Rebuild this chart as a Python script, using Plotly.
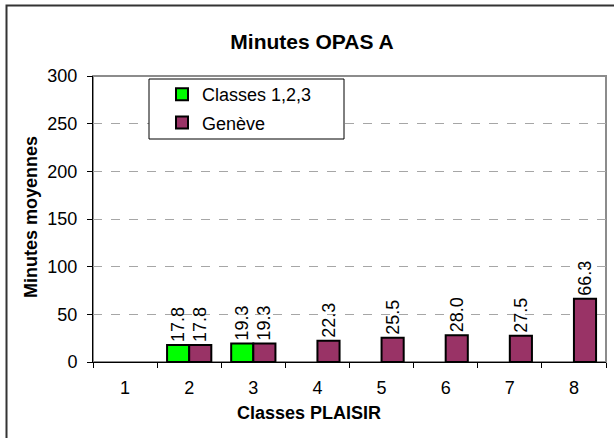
import plotly.graph_objects as go

classes = ["1", "2", "3", "4", "5", "6", "7", "8"]
classes_123 = [None, 17.8, 19.3, None, None, None, None, None]
geneve = [None, 17.8, 19.3, 22.3, 25.5, 28.0, 27.5, 66.3]

W, H = 614, 438
L, R, T, B = 93, 8, 76, 76
pw, ph = W - L - R, H - T - B


def px_x(x):
    return (x - L) / pw


def px_y(y):
    return (H - B - y) / ph


def labels(vals):
    return ["" if v is None else f"{v:.1f}" for v in vals]


fig = go.Figure()
fig.add_trace(go.Bar(x=classes, y=classes_123, name="Classes 1,2,3",
                     marker=dict(color="#00ff00", line=dict(color="black", width=2)),
                     text=labels(classes_123), textposition="outside", textangle=-90,
                     textfont=dict(size=18, color="black"), cliponaxis=False,
                     legendgroup="a"))
fig.add_trace(go.Bar(x=classes, y=geneve, name="Genève",
                     marker=dict(color="#993366", line=dict(color="black", width=2)),
                     text=labels(geneve), textposition="outside", textangle=-90,
                     textfont=dict(size=18, color="black"), cliponaxis=False,
                     legendgroup="b"))

fig.update_layout(
    width=W, height=H,
    margin=dict(l=L, r=R, t=T, b=B),
    paper_bgcolor="white", plot_bgcolor="white",
    font=dict(family="Liberation Sans, Arial", size=18, color="black"),
    title=dict(text="<b>Minutes OPAS A</b>", xref="container", x=312 / W, xanchor="center",
               yref="container", y=1 - 42 / H, yanchor="middle", font=dict(size=21)),
    barmode="group", bargap=0.31, bargroupgap=0,
    uniformtext=dict(minsize=18, mode="show"),
    legend=dict(x=px_x(162), y=px_y(76), xanchor="left", yanchor="top",
                borderwidth=0, bgcolor="rgba(0,0,0,0)",
                font=dict(size=18), traceorder="grouped", tracegroupgap=2),
    showlegend=True,
)
fig.update_xaxes(type="category", showline=True, linecolor="black", linewidth=1,
                 ticks="outside", tickson="boundaries", ticklen=5, tickcolor="black",
                 ticklabelstandoff=9, showgrid=False, range=[-0.5, 7.5])
fig.update_yaxes(range=[0, 300], dtick=50, showline=True, linecolor="black", linewidth=1,
                 ticks="outside", ticklen=5, tickcolor="black", ticklabelstandoff=6,
                 showgrid=True, gridcolor="#a6a6a6", griddash="dash", gridwidth=1,
                 zeroline=False)

# axis titles
fig.add_annotation(text="<b>Classes PLAISIR</b>", xref="paper", yref="paper",
                   x=px_x(309), y=px_y(413), xanchor="center", yanchor="middle",
                   showarrow=False, font=dict(size=18))
fig.add_annotation(text="<b>Minutes moyennes</b>", xref="paper", yref="paper",
                   x=px_x(31), y=px_y(217), xanchor="center", yanchor="middle",
                   showarrow=False, textangle=-90, font=dict(size=18))

# plot area border (grey) and outer chart border
fig.add_shape(type="rect", xref="paper", yref="paper", x0=0, y0=0, x1=1, y1=1,
              line=dict(color="#8c8c8c", width=2), layer="below")
fig.add_shape(type="rect", xref="paper", yref="paper",
              x0=px_x(6.5), x1=px_x(617), y0=px_y(441), y1=px_y(5.5),
              line=dict(color="#333333", width=2))
# legend box
fig.add_shape(type="rect", xref="paper", yref="paper",
              x0=px_x(149), x1=px_x(344), y0=px_y(139), y1=px_y(79),
              line=dict(color="black", width=1), fillcolor="white", layer="above")

fig.write_html("out.html", config=dict(displayModeBar=False),
               post_script="document.body.style.margin='0';document.body.style.overflow='hidden';")
